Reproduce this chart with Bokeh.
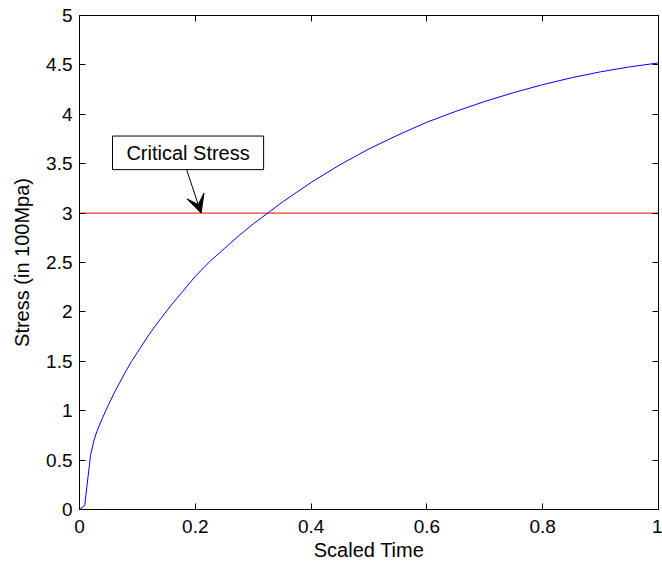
from bokeh.plotting import figure
from bokeh.models import (Range1d, FixedTicker, LinearAxis, Arrow, VeeHead,
                          Label, BoxAnnotation)
from bokeh.embed import file_html
from bokeh.resources import INLINE

# Stress history over scaled time
scaled_time = [0.0, 0.009, 0.019, 0.025, 0.03, 0.04, 0.05, 0.06, 0.07, 0.08,
               0.09, 0.10, 0.12, 0.14, 0.16, 0.18, 0.20, 0.225, 0.25, 0.275,
               0.30, 0.325, 0.35, 0.375, 0.40, 0.45, 0.50, 0.55, 0.60, 0.65,
               0.70, 0.75, 0.80, 0.85, 0.90, 0.95, 1.0]
stress = [0.0, 0.04, 0.547, 0.70, 0.79, 0.93, 1.06, 1.18, 1.29, 1.40,
          1.50, 1.59, 1.77, 1.93, 2.08, 2.22, 2.36, 2.51, 2.64, 2.77,
          2.89, 3.00, 3.11, 3.21, 3.31, 3.49, 3.65, 3.79, 3.92, 4.03,
          4.13, 4.22, 4.30, 4.37, 4.43, 4.48, 4.52]

critical_stress = 3.0
critical_label = "Critical Stress"

x_ticks = [0, 0.2, 0.4, 0.6, 0.8, 1]
x_tick_labels = ["0", "0.2", "0.4", "0.6", "0.8", "1"]
y_ticks = [0, 0.5, 1, 1.5, 2, 2.5, 3, 3.5, 4, 4.5, 5]
y_tick_labels = ["0", "0.5", "1", "1.5", "2", "2.5", "3", "3.5", "4", "4.5", "5"]

FONT = "Liberation Sans"
TICK_SIZE = "19px"
LABEL_SIZE = "20px"

p = figure(frame_width=579, frame_height=494,
           min_border_left=79, min_border_right=4,
           min_border_top=15, min_border_bottom=58,
           x_range=Range1d(0, 1), y_range=Range1d(0, 5),
           output_backend="svg", toolbar_location=None,
           x_axis_label="Scaled Time", y_axis_label="Stress (in 100Mpa)")
p.grid.visible = False
p.outline_line_color = "black"
p.background_fill_color = "white"
p.border_fill_color = "white"


def style_axis(ax, ticks, labels, show_labels=True):
    ax.ticker = FixedTicker(ticks=ticks)
    ax.major_label_overrides = {t: l for t, l in zip(ticks, labels)}
    ax.major_tick_in = 6
    ax.major_tick_out = 0
    ax.minor_tick_line_color = None
    ax.axis_line_color = "black"
    ax.major_tick_line_color = "black"
    ax.major_label_text_font = FONT
    ax.major_label_text_color = "black"
    ax.axis_label_text_font = FONT
    ax.axis_label_text_font_style = "normal"
    ax.axis_label_text_color = "black"
    ax.axis_label_text_font_size = LABEL_SIZE
    if show_labels:
        ax.major_label_text_font_size = TICK_SIZE
    else:
        ax.major_label_text_font_size = "0px"
        ax.major_label_standoff = 0


style_axis(p.xaxis[0], x_ticks, x_tick_labels)
style_axis(p.yaxis[0], y_ticks, y_tick_labels)
p.xaxis[0].major_label_standoff = 10
p.xaxis[0].axis_label_standoff = 3
p.yaxis[0].major_label_standoff = 7
p.yaxis[0].axis_label_standoff = 10

top_axis = LinearAxis()
style_axis(top_axis, x_ticks, x_tick_labels, show_labels=False)
p.add_layout(top_axis, "above")
right_axis = LinearAxis()
style_axis(right_axis, y_ticks, y_tick_labels, show_labels=False)
p.add_layout(right_axis, "right")

# critical stress level and the stress curve
p.line([0, 1], [critical_stress, critical_stress], line_color="#ff0000", line_width=1)
p.line(scaled_time, stress, line_color="#0000ff", line_width=1)

# labelled arrow pointing at the critical level
p.add_layout(Arrow(x_start=0.185, y_start=3.44, x_end=0.21, y_end=critical_stress,
                   line_color="black", line_width=1,
                   end=VeeHead(size=18, fill_color="black", line_color="black")))
p.add_layout(BoxAnnotation(left=0.057, right=0.318, bottom=3.44, top=3.78,
                           fill_color="white", fill_alpha=1.0,
                           line_color="black", line_width=1, line_alpha=1.0))
p.add_layout(Label(x=0.1875, y=3.61, text=critical_label,
                   text_align="center", text_baseline="middle",
                   text_font=FONT, text_font_size="20px", text_color="black"))

open("out.html", "w").write(file_html(p, INLINE))
